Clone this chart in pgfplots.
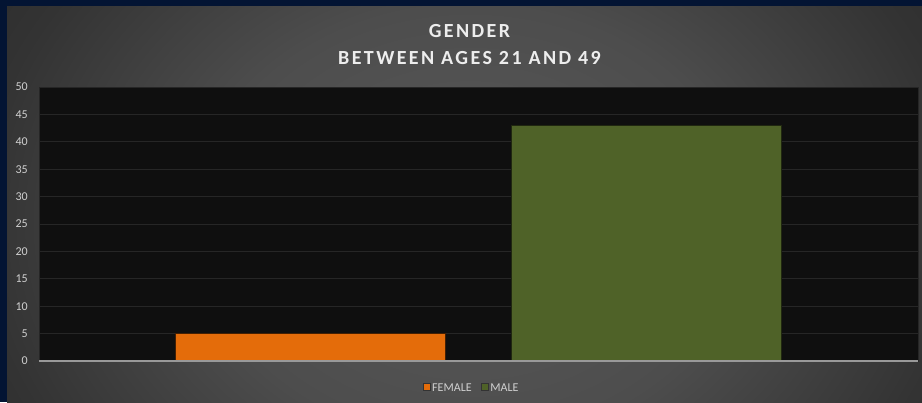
\documentclass[border=0pt]{standalone}
\usepackage{fontspec}
\setmainfont{Carlito}
\newfontfamily\titlefont[LetterSpace=12]{Carlito}
\usepackage{pgfplots}
\pgfplotsset{compat=1.18}
\definecolor{navy}{HTML}{031433}
\definecolor{plotbg}{HTML}{0F0F0F}
\definecolor{gridc}{HTML}{262626}
\definecolor{femc}{HTML}{E46C0A}
\definecolor{malec}{HTML}{4F6228}
\definecolor{txt}{HTML}{D0D0D0}
\definecolor{s0}{HTML}{5A5A5A}
\definecolor{s1}{HTML}{4D4D4D}
\definecolor{s2}{HTML}{333333}
\definecolor{s3}{HTML}{2A2A2A}
\pgfdeclareradialshading{bgshade}{\pgfpoint{0bp}{0bp}}{color(0bp)=(s0); color(12bp)=(s1); color(22bp)=(s2); color(28bp)=(s3); color(50bp)=(s3)}
\begin{document}
\begin{tikzpicture}[x=1bp,y=1bp]
\useasboundingbox (0,0) rectangle (922,402);
\fill[navy] (0,0) rectangle (922,402);
\begin{scope}
\clip (7,0) rectangle (922,395);
\shade[shading=bgshade] (-90,-270) rectangle (1030,630);
\end{scope}
\node[text=white!93!black, font=\titlefont\bfseries\fontsize{20bp}{22bp}\selectfont, anchor=center] at (469.5,371) {GENDER};
\node[text=white!93!black, font=\titlefont\bfseries\fontsize{20bp}{22bp}\selectfont, anchor=center] at (469.5,344) {BETWEEN AGES 21 AND 49};
\begin{axis}[
  at={(39bp,41bp)}, anchor=south west,
  width=879bp, height=274bp, scale only axis,
  xmin=-0.8065, xmax=1.8095,
  ymin=0, ymax=50, ytick distance=5,
  xtick=\empty,
  axis line style={draw=none},
  axis background/.style={fill=plotbg, draw=black!85!white},
  ymajorgrids, grid style={gridc, line width=1bp},
  major tick length=0pt,
  /pgf/number format/assume math mode=true,
  yticklabel style={font=\fontsize{12bp}{14bp}\selectfont, text=txt, inner sep=0pt, anchor=east, xshift=-11bp},
  legend columns=2,
  legend style={at={(0.492,-0.0985)}, anchor=center, draw=none, fill=none,
    font=\fontsize{12bp}{14bp}\selectfont, text=txt, inner sep=0pt,
    nodes={inner sep=1.5bp}, /tikz/every even column/.append style={column sep=8bp}},
  legend image code/.code={\draw[#1, draw=black!80!white, line width=0.8bp] (0bp,-2.5bp) rectangle (7bp,4.5bp);},
]
\addplot[ybar, bar shift=0pt, bar width=270bp, fill=femc, draw=black!70!femc, line width=0.6bp] coordinates {(0,5)};
\addplot[ybar, bar shift=0pt, bar width=270bp, fill=malec, draw=black!60!malec, line width=0.6bp] coordinates {(1,43)};
\legend{FEMALE, MALE}
\draw[color=gray!80!white, line width=1.5bp] (rel axis cs:0,0) -- (rel axis cs:1,0);
\end{axis}
\end{tikzpicture}
\end{document}
